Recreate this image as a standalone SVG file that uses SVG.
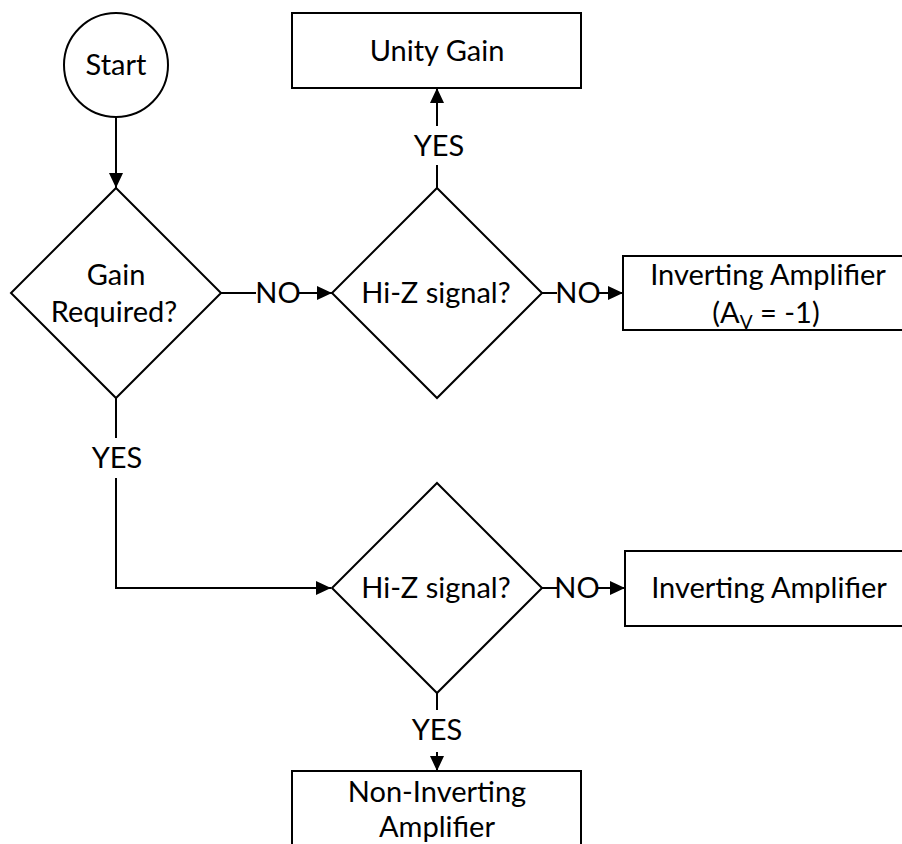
<svg xmlns="http://www.w3.org/2000/svg" width="902" height="844" viewBox="0 0 902 844">
  <style>
    .shape { fill: #ffffff; stroke: #000000; stroke-width: 2; }
    .conn { fill: none; stroke: #000000; stroke-width: 2; }
    .t { font-family: Lato, "Open Sans", sans-serif; font-size: 29px; fill: #000000; text-anchor: middle; }
  </style>
  <defs>
    <marker id="arrow" markerUnits="userSpaceOnUse" markerWidth="16" markerHeight="14" refX="15" refY="7" orient="auto">
      <path d="M0,0 L15,7 L0,14 Z" fill="#000000"/>
    </marker>
  </defs>

  <g id="connectors">
    <line class="conn" x1="116" y1="117" x2="116" y2="188" marker-end="url(#arrow)"/>
    <line class="conn" x1="221" y1="293" x2="256" y2="293"/>
    <line class="conn" x1="299" y1="293" x2="332" y2="293" marker-end="url(#arrow)"/>
    <text class="t" x="278" y="303">NO</text>
    <line class="conn" x1="437" y1="188" x2="437" y2="165"/>
    <line class="conn" x1="437" y1="126" x2="437" y2="88" marker-end="url(#arrow)"/>
    <text class="t" x="439" y="156">YES</text>
    <line class="conn" x1="542" y1="293" x2="557" y2="293"/>
    <line class="conn" x1="598" y1="293" x2="623" y2="293" marker-end="url(#arrow)"/>
    <text class="t" x="578" y="303">NO</text>
    <line class="conn" x1="116" y1="398" x2="116" y2="438"/>
    <polyline class="conn" points="116,478 116,588 331,588" marker-end="url(#arrow)"/>
    <text class="t" x="117" y="468">YES</text>
    <line class="conn" x1="542" y1="588" x2="557" y2="588"/>
    <line class="conn" x1="598" y1="588" x2="625" y2="588" marker-end="url(#arrow)"/>
    <text class="t" x="577" y="598">NO</text>
    <line class="conn" x1="437" y1="693" x2="437" y2="710"/>
    <line class="conn" x1="437" y1="752" x2="437" y2="771" marker-end="url(#arrow)"/>
    <text class="t" x="437" y="740">YES</text>
  </g>

  <g id="start">
    <circle class="shape" cx="116" cy="65" r="52"/>
    <text class="t" x="116" y="75">Start</text>
  </g>

  <g id="unity-gain">
    <rect class="shape" x="292" y="13" width="289" height="75"/>
    <text class="t" x="437" y="61">Unity Gain</text>
  </g>

  <g id="gain-required">
    <polygon class="shape" points="116,188 221,293 116,398 11,293"/>
    <text class="t" x="116" y="285">Gain</text>
    <text class="t" x="114" y="322">Required?</text>
  </g>

  <g id="hiz-1">
    <polygon class="shape" points="437,188 542,293 437,398 332,293"/>
    <text class="t" x="436" y="303">Hi-Z signal?</text>
  </g>

  <g id="inverting-unity">
    <rect class="shape" x="623" y="256" width="292" height="74"/>
    <text class="t" x="768" y="285">Inverting Amplifier</text>
    <text class="t" x="766" y="323">(A<tspan font-size="19" dy="6">V</tspan><tspan dy="-6"> = -1)</tspan></text>
  </g>

  <g id="hiz-2">
    <polygon class="shape" points="437,483 542,588 437,693 332,588"/>
    <text class="t" x="436" y="598">Hi-Z signal?</text>
  </g>

  <g id="inverting">
    <rect class="shape" x="625" y="551" width="292" height="75"/>
    <text class="t" x="769" y="598">Inverting Amplifier</text>
  </g>

  <g id="non-inverting">
    <rect class="shape" x="292" y="771" width="289" height="90"/>
    <text class="t" x="437" y="802">Non-Inverting</text>
    <text class="t" x="437" y="837">Amplifier</text>
  </g>
</svg>
